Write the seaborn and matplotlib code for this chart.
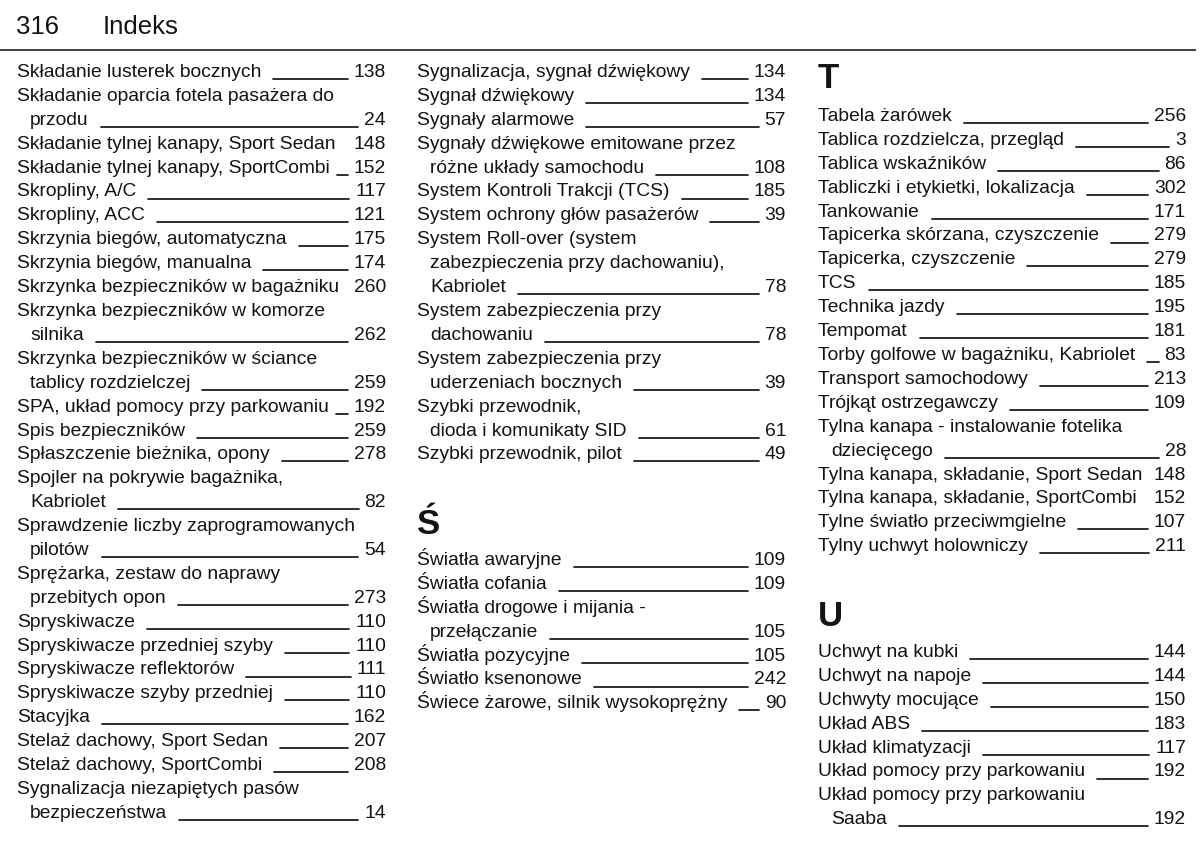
import matplotlib
matplotlib.use("Agg")
import matplotlib.pyplot as plt
import pandas as pd
import seaborn as sns

# ---- page content -------------------------------------------------------
page_number = "316"
page_title = "Indeks"

# each entry: (text, page); "\n" marks a wrapped, indented continuation line
s_entries_col1 = [
    ("Składanie lusterek bocznych", "138"),
    ("Składanie oparcia fotela pasażera do\nprzodu", "24"),
    ("Składanie tylnej kanapy, Sport Sedan", "148"),
    ("Składanie tylnej kanapy, SportCombi", "152"),
    ("Skropliny, A/C", "117"),
    ("Skropliny, ACC", "121"),
    ("Skrzynia biegów, automatyczna", "175"),
    ("Skrzynia biegów, manualna", "174"),
    ("Skrzynka bezpieczników w bagażniku", "260"),
    ("Skrzynka bezpieczników w komorze\nsilnika", "262"),
    ("Skrzynka bezpieczników w ściance\ntablicy rozdzielczej", "259"),
    ("SPA, układ pomocy przy parkowaniu", "192"),
    ("Spis bezpieczników", "259"),
    ("Spłaszczenie bieżnika, opony", "278"),
    ("Spojler na pokrywie bagażnika,\nKabriolet", "82"),
    ("Sprawdzenie liczby zaprogramowanych\npilotów", "54"),
    ("Sprężarka, zestaw do naprawy\nprzebitych opon", "273"),
    ("Spryskiwacze", "110"),
    ("Spryskiwacze przedniej szyby", "110"),
    ("Spryskiwacze reflektorów", "111"),
    ("Spryskiwacze szyby przedniej", "110"),
    ("Stacyjka", "162"),
    ("Stelaż dachowy, Sport Sedan", "207"),
    ("Stelaż dachowy, SportCombi", "208"),
    ("Sygnalizacja niezapiętych pasów\nbezpieczeństwa", "14"),
]

s_entries_col2 = [
    ("Sygnalizacja, sygnał dźwiękowy", "134"),
    ("Sygnał dźwiękowy", "134"),
    ("Sygnały alarmowe", "57"),
    ("Sygnały dźwiękowe emitowane przez\nróżne układy samochodu", "108"),
    ("System Kontroli Trakcji (TCS)", "185"),
    ("System ochrony głów pasażerów", "39"),
    ("System Roll-over (system\nzabezpieczenia przy dachowaniu),\nKabriolet", "78"),
    ("System zabezpieczenia przy\ndachowaniu", "78"),
    ("System zabezpieczenia przy\nuderzeniach bocznych", "39"),
    ("Szybki przewodnik,\ndioda i komunikaty SID", "61"),
    ("Szybki przewodnik, pilot", "49"),
]

sacute_entries = [
    ("Światła awaryjne", "109"),
    ("Światła cofania", "109"),
    ("Światła drogowe i mijania -\nprzełączanie", "105"),
    ("Światła pozycyjne", "105"),
    ("Światło ksenonowe", "242"),
    ("Świece żarowe, silnik wysokoprężny", "90"),
]

t_entries = [
    ("Tabela żarówek", "256"),
    ("Tablica rozdzielcza, przegląd", "3"),
    ("Tablica wskaźników", "86"),
    ("Tabliczki i etykietki, lokalizacja", "302"),
    ("Tankowanie", "171"),
    ("Tapicerka skórzana, czyszczenie", "279"),
    ("Tapicerka, czyszczenie", "279"),
    ("TCS", "185"),
    ("Technika jazdy", "195"),
    ("Tempomat", "181"),
    ("Torby golfowe w bagażniku, Kabriolet", "83"),
    ("Transport samochodowy", "213"),
    ("Trójkąt ostrzegawczy", "109"),
    ("Tylna kanapa - instalowanie fotelika\ndziecięcego", "28"),
    ("Tylna kanapa, składanie, Sport Sedan", "148"),
    ("Tylna kanapa, składanie, SportCombi", "152"),
    ("Tylne światło przeciwmgielne", "107"),
    ("Tylny uchwyt holowniczy", "211"),
]

u_entries = [
    ("Uchwyt na kubki", "144"),
    ("Uchwyt na napoje", "144"),
    ("Uchwyty mocujące", "150"),
    ("Układ ABS", "183"),
    ("Układ klimatyzacji", "117"),
    ("Układ pomocy przy parkowaniu", "192"),
    ("Układ pomocy przy parkowaniu\nSaaba", "192"),
]

# ---- layout (pixels, y downwards) ---------------------------------------
W, H = 1200, 844
col_left = [17, 417, 818]
col_right = [386, 786, 1186]
indent = 13
row_step = 23.9
ink = "#141414"
body_size = 13.9

# (column, first row centre, heading letter, heading baseline, entries)
blocks = [
    (0, 71, None, None, s_entries_col1),
    (1, 71, None, None, s_entries_col2),
    (1, 559, "Ś", 534, sacute_entries),
    (2, 115, "T", 88, t_entries),
    (2, 651, "U", 626, u_entries),
]

sns.set_theme(style="white")
plt.rcParams["font.family"] = ["Liberation Sans", "DejaVu Sans"]

fig = plt.figure(figsize=(W / 100, H / 100), dpi=100)
ax = fig.add_axes([0, 0, 1, 1])
ax.set_xlim(0, W)
ax.set_ylim(H, 0)
ax.axis("off")

# page header
ax.text(16, 34, page_number, fontsize=18.5, color=ink, va="baseline", ha="left")
ax.text(103, 34, page_title, fontsize=18.5, color=ink, va="baseline", ha="left")
ax.plot([0, 1196], [50, 50], color="#333333", lw=1.3, solid_capstyle="butt")

pairs = []
for col, y0, letter, letter_base, entries in blocks:
    if letter:
        ax.text(col_left[col], letter_base, letter, fontsize=25, fontweight="bold",
                color=ink, va="baseline", ha="left")
    row = 0
    for text, page in entries:
        lines = text.split("\n")
        for k, line in enumerate(lines):
            base = y0 + row * row_step + 6
            x = col_left[col] + (indent if k > 0 else 0)
            t = ax.text(x, base, line, fontsize=body_size, color=ink,
                        va="baseline", ha="left")
            if k == len(lines) - 1:
                n = ax.text(col_right[col], base, page, fontsize=body_size, color=ink,
                            va="baseline", ha="right")
                pairs.append((t, n, base))
            row += 1

# leader lines between the entry text and its page number
fig.canvas.draw()
renderer = fig.canvas.get_renderer()
inv = ax.transData.inverted()
segs = []
for i, (t, n, base) in enumerate(pairs):
    x_end_text = inv.transform((t.get_window_extent(renderer).x1, 0))[0]
    x_num = inv.transform((n.get_window_extent(renderer).x0, 0))[0]
    x0, x1 = x_end_text + 12, x_num - 6
    if x1 - x0 < 8:
        x0 = x_end_text + 7
    if x1 - x0 >= 9:
        segs.append({"seg": i, "x": x0, "y": base + 2})
        segs.append({"seg": i, "x": x1, "y": base + 2})

leaders = pd.DataFrame(segs)
sns.lineplot(data=leaders, x="x", y="y", units="seg", estimator=None,
             color=ink, lw=1.25, ax=ax, legend=False)
ax.set_xlim(0, W)
ax.set_ylim(H, 0)
ax.axis("off")

fig.savefig("out.png", dpi=100, facecolor="white")
